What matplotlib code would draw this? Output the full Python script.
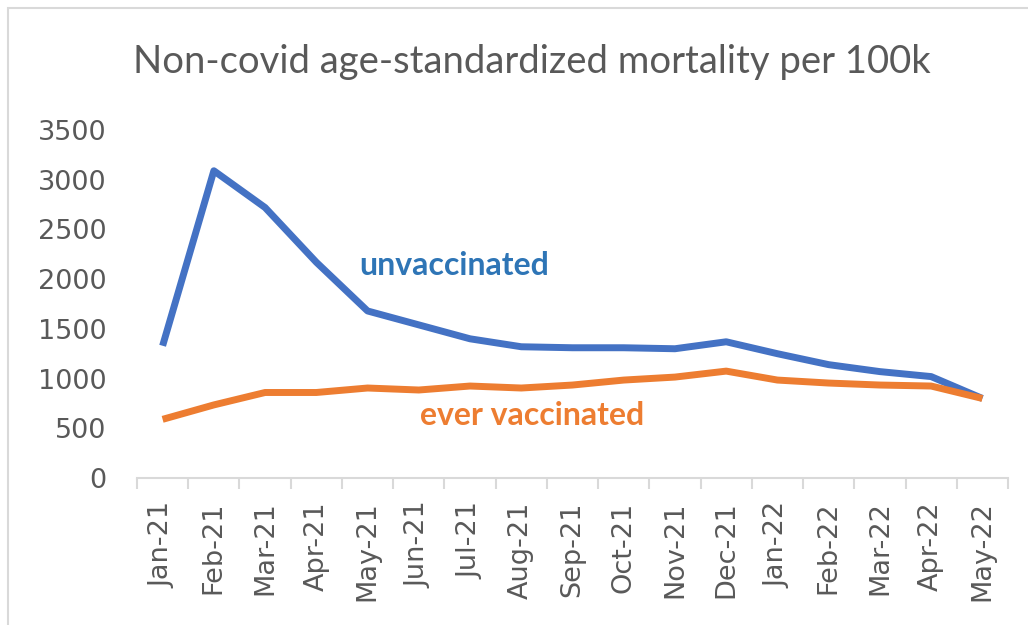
import matplotlib
matplotlib.use("Agg")
import matplotlib.pyplot as plt
from matplotlib.patches import Rectangle
import numpy as np

months = ["Jan-21", "Feb-21", "Mar-21", "Apr-21", "May-21", "Jun-21", "Jul-21",
          "Aug-21", "Sep-21", "Oct-21", "Nov-21", "Dec-21", "Jan-22", "Feb-22",
          "Mar-22", "Apr-22", "May-22"]
unvaccinated = [1330, 3090, 2720, 2170, 1680, 1540, 1400, 1320, 1310, 1310,
                1300, 1370, 1250, 1140, 1070, 1020, 800]
ever_vaccinated = [590, 735, 860, 860, 905, 885, 925, 905, 935, 985,
                   1015, 1075, 985, 955, 935, 925, 800]
yticks = [0, 500, 1000, 1500, 2000, 2500, 3000, 3500]

fig = plt.figure(figsize=(10.28, 6.25), dpi=100)
fig.patches.append(Rectangle((8 / 1028, -0.1), 1.2, 1 - 8 / 625 + 0.1,
                             transform=fig.transFigure, fill=False,
                             edgecolor="#d9d9d9", linewidth=1.5))
ax = fig.add_axes([137 / 1028, 1 - 478 / 625, (1008 - 137) / 1028, (478 - 130) / 625])

x = np.arange(len(months))
ax.plot(x, unvaccinated, color="#4472C4", linewidth=5, solid_joinstyle="round",
        solid_capstyle="butt")
ax.plot(x, ever_vaccinated, color="#ED7D31", linewidth=5, solid_joinstyle="round",
        solid_capstyle="butt")

ax.set_xlim(-0.5, len(months) - 0.5)
ax.set_ylim(0, 3500)
ax.set_yticks(yticks)
ax.set_yticklabels([str(v) for v in yticks], fontfamily="DejaVu Sans", fontsize=19.5,
                   color="#595959")
ax.set_xticks(x)
ax.set_xticklabels(months, rotation=90, fontfamily="DejaVu Sans", fontsize=19.5,
                   color="#595959")
ax.set_xticks(np.arange(-0.5, len(months)), minor=True)
ax.tick_params(axis="x", which="major", length=0, pad=17)
ax.tick_params(axis="x", which="minor", length=8, width=1.5, color="#d9d9d9")
ax.tick_params(axis="y", length=0, pad=22)

for s in ["top", "right", "left"]:
    ax.spines[s].set_visible(False)
ax.spines["bottom"].set_color("#d9d9d9")
ax.spines["bottom"].set_linewidth(1.5)

ax.text(3.84, 2133, "unvaccinated", color="#2E75B6", fontfamily="Lato",
        fontweight="bold", fontsize=23, ha="left", va="center")
ax.text(5.02, 624, "ever vaccinated", color="#ED7D31", fontfamily="Lato",
        fontweight="bold", fontsize=23, ha="left", va="center")

fig.text(532 / 1028, 1 - 62 / 625, "Non-covid age-standardized mortality per 100k",
         fontfamily="Lato", fontsize=27.5, color="#595959", ha="center", va="center")

fig.savefig("out.png", dpi=100)
